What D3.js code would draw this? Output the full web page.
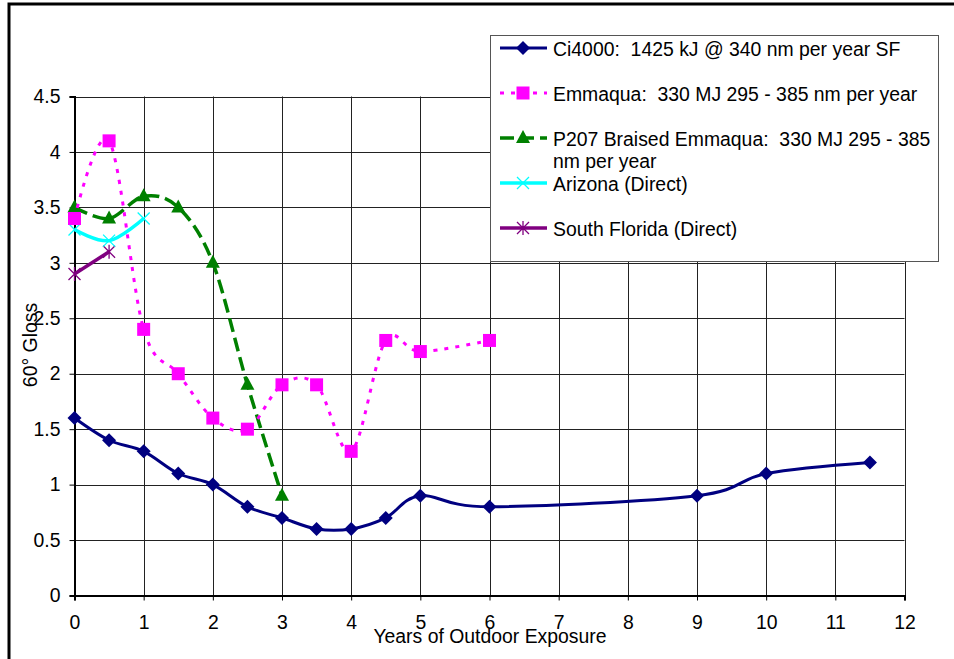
<!DOCTYPE html>
<html><head><meta charset="utf-8">
<script src="https://cdn.jsdelivr.net/npm/d3@7"></script>
<style>body{margin:0;background:#fff}svg{display:block;font-family:"Liberation Sans",Arial,sans-serif}text{white-space:pre}</style>
</head><body><svg id="c" width="954" height="659"></svg>
<script>
const xTicks=[0,1,2,3,4,5,6,7,8,9,10,11,12];
const yTicks=[0,0.5,1,1.5,2,2.5,3,3.5,4,4.5];
const ciX=[0,0.5,1,1.5,2,2.5,3,3.5,4,4.5,5,6,9,10,11.5];
const ciY=[1.6,1.4,1.3,1.1,1.0,0.8,0.7,0.6,0.6,0.7,0.9,0.8,0.9,1.1,1.2];
const emX=[0,0.5,1,1.5,2,2.5,3,3.5,4,4.5,5,6];
const emY=[3.4,4.1,2.4,2.0,1.6,1.5,1.9,1.9,1.3,2.3,2.2,2.3];
const p2X=[0,0.5,1,1.5,2,2.5,3];
const p2Y=[3.5,3.4,3.6,3.5,3.0,1.9,0.9];
const azX=[0,0.5,1];
const azY=[3.3,3.2,3.4];
const sfX=[0,0.5];
const sfY=[2.9,3.1];
const names=["Ci4000:  1425 kJ @ 340 nm per year SF","Emmaqua:  330 MJ 295 - 385 nm per year","P207 Braised Emmaqua:  330 MJ 295 - 385|nm per year","Arizona (Direct)","South Florida (Direct)"];

const FS=19.4;
const svg=d3.select("#c");
const x=d3.scaleLinear().domain([0,12]).range([74.5,904.5]);
const y=d3.scaleLinear().domain([0,4.5]).range([595.5,96.5]);

// frame
svg.append("path").attr("d","M9,662V4H960").attr("fill","none").attr("stroke","#000").attr("stroke-width",3);

const g=svg.append("g");
g.selectAll(".vg").data(xTicks).join("line").attr("x1",d=>Math.round(x(d))+0.5).attr("x2",d=>Math.round(x(d))+0.5)
 .attr("y1",y(4.5)).attr("y2",y(0)).attr("stroke","#222").attr("stroke-width",1);
g.selectAll(".hg").data(yTicks).join("line").attr("y1",d=>Math.round(y(d))+0.5).attr("y2",d=>Math.round(y(d))+0.5)
 .attr("x1",x(0)).attr("x2",x(12)).attr("stroke","#222").attr("stroke-width",1);

const xa=svg.append("g").attr("transform",`translate(0,${y(0)})`).call(d3.axisBottom(x).tickValues(xTicks).tickSize(5).tickPadding(15).tickFormat(d3.format("d")));
const ya=svg.append("g").attr("transform",`translate(${x(0)},0)`).call(d3.axisLeft(y).tickValues(yTicks).tickSize(5).tickPadding(9).tickFormat(d=>String(d)));
[xa,ya].forEach(a=>{a.selectAll("path").attr("stroke","#000").attr("stroke-width",2);a.selectAll("line").attr("stroke","#000");
 a.selectAll("text").attr("font-size",FS).attr("fill","#000").attr("font-family","Liberation Sans, Arial, sans-serif");});

svg.append("text").attr("x",490).attr("y",643).attr("text-anchor","middle").attr("font-size",FS).text("Years of Outdoor Exposure");
svg.append("text").attr("transform","translate(37,345) rotate(-90)").attr("text-anchor","middle").attr("font-size",FS).text("60° Gloss");

const line=d3.line().x(d=>x(d[0])).y(d=>y(d[1])).curve(d3.curveCatmullRom.alpha(0));
const series=[
 {xs:ciX,ys:ciY,c:"#000080",dash:null,w:3,m:"diamond"},
 {xs:emX,ys:emY,c:"#FF00FF",dash:"4,7",w:3,m:"square"},
 {xs:p2X,ys:p2Y,c:"#008000",dash:"14,6",w:3.5,m:"triangle"},
 {xs:azX,ys:azY,c:"#00FFFF",dash:null,w:3.5,m:"x"},
 {xs:sfX,ys:sfY,c:"#800080",dash:null,w:3.5,m:"star"}
];
function marker(sel,m,c){
 if(m==="diamond") sel.append("path").attr("d","M0,-7L7,0L0,7L-7,0Z").attr("fill",c);
 else if(m==="square") sel.append("rect").attr("x",-6.5).attr("y",-6.5).attr("width",13).attr("height",13).attr("fill",c);
 else if(m==="triangle") sel.append("path").attr("d","M0,-8L7,5L-7,5Z").attr("fill",c);
 else if(m==="x") sel.append("path").attr("d","M-6,-6L6,6M-6,6L6,-6").attr("stroke",c).attr("stroke-width",1.3);
 else if(m==="star") sel.append("path").attr("d","M-6,-6L6,6M-6,6L6,-6M0,-7V7").attr("stroke",c).attr("stroke-width",1.3);
}
const plot=svg.append("g");
[0,4,3,2,1].forEach(i=>{
 const s=series[i];
 const pts=s.xs.map((v,k)=>[v,s.ys[k]]);
 plot.append("path").datum(pts).attr("d",line).attr("fill","none").attr("stroke",s.c).attr("stroke-width",s.w)
  .attr("stroke-dasharray",s.dash);
 pts.forEach(p=>{const mg=plot.append("g").attr("transform",`translate(${x(p[0])},${y(p[1])})`);marker(mg,s.m,s.c);});
});

const lg=svg.append("g");
lg.append("rect").attr("x",490.5).attr("y",35.5).attr("width",448).attr("height",226).attr("fill","#fff").attr("stroke","#555").attr("stroke-width",1);
const ly=[48,93,138,183,228];
series.forEach((s,i)=>{
 const yy=ly[i];
 lg.append("line").attr("x1",500).attr("x2",547).attr("y1",yy).attr("y2",yy).attr("stroke",s.c).attr("stroke-width",s.w).attr("stroke-dasharray",s.dash);
 const mg=lg.append("g").attr("transform",`translate(523,${yy})`);marker(mg,s.m,s.c);
 const parts=names[i].split("|");
 parts.forEach((t,k)=>lg.append("text").attr("x",553).attr("y",yy+8+k*22).attr("font-size",FS).text(t));
});
</script></body></html>
